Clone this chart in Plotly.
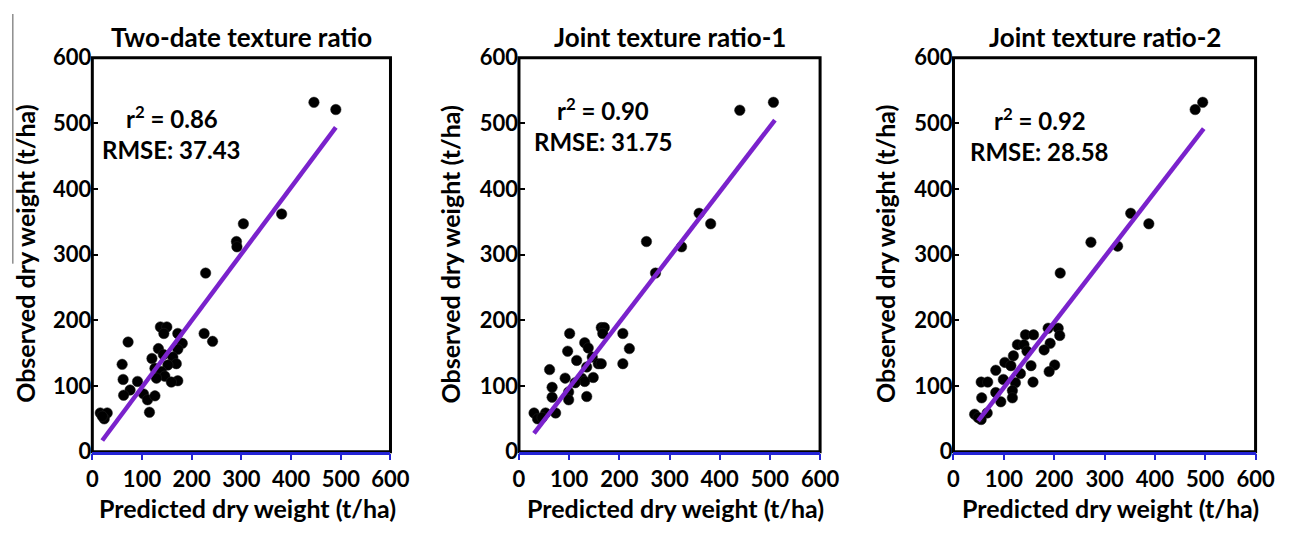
import plotly.graph_objects as go

# ---------------- data ----------------
panel_titles = ["Two-date texture ratio", "Joint texture ratio-1", "Joint texture ratio-2"]
r2_values = ["0.86", "0.90", "0.92"]
rmse_values = ["37.43", "31.75", "28.58"]
tick_values = [0, 100, 200, 300, 400, 500, 600]
x_label = "Predicted dry weight (t/ha)"
y_label = "Observed dry weight (t/ha)"

p1_pred = [446, 490, 381, 304, 290, 291, 228, 225, 242, 72, 137, 150, 144, 172, 181, 172,
           133, 120, 143, 162, 169, 152, 126, 139, 146, 129, 172, 159, 60, 62, 91, 76, 63,
           103, 111, 126, 115, 16, 30, 24, 20]
p1_obs = [532, 521, 362, 347, 320, 312, 272, 180, 168, 167, 190, 190, 180, 180, 165, 156,
          157, 142, 148, 144, 134, 132, 127, 122, 115, 112, 108, 106, 133, 110, 107, 94, 86,
          88, 79, 85, 60, 59, 59, 50, 54]
p1_fit_x = [20, 490]
p1_fit_y = [17, 494]

p2_pred = [507, 440, 359, 382, 254, 324, 272, 207, 220, 207, 101, 97, 164, 170, 167, 131,
           138, 115, 146, 158, 164, 135, 92, 125, 148, 131, 61, 66, 66, 99, 99, 135, 73, 53,
           30, 37, 46, 112]
p2_obs = [532, 520, 363, 347, 320, 312, 272, 180, 157, 134, 180, 153, 189, 189, 180, 166,
          158, 139, 144, 134, 134, 129, 112, 112, 113, 107, 125, 98, 83, 91, 79, 84, 59, 59,
          59, 50, 52, 105]
p2_fit_x = [30, 510]
p2_fit_y = [28, 505]

p3_pred = [495, 480, 352, 388, 273, 326, 212, 188, 208, 211, 192, 180, 201, 190, 143, 159,
           127, 140, 146, 119, 102, 114, 154, 84, 133, 99, 123, 158, 55, 68, 84, 117, 56, 94,
           117, 42, 67, 55, 49]
p3_obs = [532, 521, 363, 347, 319, 313, 272, 188, 188, 177, 165, 155, 132, 122, 178, 178,
          163, 163, 153, 146, 136, 131, 131, 124, 119, 110, 105, 106, 106, 106, 90, 93, 82,
          76, 82, 57, 59, 49, 52]
p3_fit_x = [49, 497]
p3_fit_y = [47, 492]

panels = [
    (p1_pred, p1_obs, p1_fit_x, p1_fit_y),
    (p2_pred, p2_obs, p2_fit_x, p2_fit_y),
    (p3_pred, p3_obs, p3_fit_x, p3_fit_y),
]

# ---------------- layout geometry ----------------
W, H = 1304, 534
FONT = "Lato"
x_domains_px = [(88, 392), (523, 830), (966, 1274)]
y_domain_px = (46, 461)  # top, bottom
ytitle_x_px = [20, 453, 896]
r2_pos_px = [(120, 109), (560, 100), (1005, 111)]
rmse_pos_px = [(96, 143), (536, 134), (981, 145)]

PURPLE = "#7a22cc"
BLUE = "#2424d6"
TICK_SIZE = 22
TITLE_SIZE = 26
AXTITLE_SIZE = 25
STAT_SIZE = 24


def px(xp):
    return xp / W


def py(yp):
    return (H - yp) / H


fig = go.Figure()
annotations = []
shapes = []

for i, (xs, ys, fx, fy) in enumerate(panels):
    n = "" if i == 0 else str(i + 1)
    xa, ya = "x" + n, "y" + n
    fig.add_trace(go.Scatter(x=xs, y=ys, mode="markers", xaxis=xa, yaxis=ya,
                             marker=dict(color="black", size=10.5,
                                         line=dict(color="#222", width=0.5)),
                             showlegend=False, hoverinfo="skip"))
    fig.add_trace(go.Scatter(x=fx, y=fy, mode="lines", xaxis=xa, yaxis=ya,
                             line=dict(color=PURPLE, width=4.5),
                             showlegend=False, hoverinfo="skip"))

    x0, x1 = x_domains_px[i]
    fig.layout["xaxis" + n] = dict(
        domain=[px(x0), px(x1)], range=[0, 600], anchor=ya,
        tickvals=tick_values, ticks="outside", ticklen=6, tickwidth=2, tickcolor=BLUE,
        showline=True, linecolor=BLUE, linewidth=2.5, showgrid=False, zeroline=False,
        tickfont=dict(family=FONT, size=TICK_SIZE, color="black", weight="bold"),
        fixedrange=True,
    )
    fig.layout["yaxis" + n] = dict(
        domain=[py(y_domain_px[1]), py(y_domain_px[0])], range=[0, 600], anchor=xa,
        tickvals=tick_values, ticks="inside", ticklen=6, tickwidth=1.5, tickcolor="black",
        showline=False, showgrid=False, zeroline=False,
        tickfont=dict(family=FONT, size=TICK_SIZE, color="black", weight="bold"),
        fixedrange=True,
    )
    shapes.append(dict(type="rect", xref=xa + " domain", yref=ya + " domain",
                       x0=0, x1=1, y0=0, y1=1, layer="below",
                       line=dict(color="black", width=3)))

    cx = (x0 + x1) / 2
    annotations.append(dict(text=panel_titles[i], x=px(cx), y=py(24), xref="paper",
                            yref="paper", showarrow=False, xanchor="center", yanchor="middle",
                            font=dict(family=FONT, size=TITLE_SIZE, color="black",
                                      weight="bold")))
    annotations.append(dict(text=x_label, x=px(cx + 6), y=py(520), xref="paper",
                            yref="paper", showarrow=False, xanchor="center", yanchor="middle",
                            font=dict(family=FONT, size=AXTITLE_SIZE, color="black",
                                      weight="bold")))
    annotations.append(dict(text=y_label, x=px(ytitle_x_px[i]), y=py(253), xref="paper",
                            yref="paper", showarrow=False, xanchor="center", yanchor="middle",
                            textangle=-90,
                            font=dict(family=FONT, size=AXTITLE_SIZE, color="black",
                                      weight="bold")))
    rx, ry = r2_pos_px[i]
    annotations.append(dict(text="r<sup>2</sup> = " + r2_values[i], x=px(rx), y=py(ry),
                            xref="paper", yref="paper", showarrow=False, xanchor="left",
                            yanchor="middle",
                            font=dict(family=FONT, size=STAT_SIZE, color="black",
                                      weight="bold")))
    mx, my = rmse_pos_px[i]
    annotations.append(dict(text="RMSE: " + rmse_values[i], x=px(mx), y=py(my),
                            xref="paper", yref="paper", showarrow=False, xanchor="left",
                            yanchor="middle",
                            font=dict(family=FONT, size=STAT_SIZE, color="black",
                                      weight="bold")))

# thin vertical rule at the far left (present in the reference image)
shapes.append(dict(type="line", xref="paper", yref="paper", x0=px(7), x1=px(7),
                   y0=py(0), y1=py(263), line=dict(color="#555", width=1)))

fig.update_layout(width=W, height=H, margin=dict(l=0, r=0, t=0, b=0),
                  paper_bgcolor="white", plot_bgcolor="white",
                  annotations=annotations, shapes=shapes, showlegend=False)

fig.write_html("out.html")
